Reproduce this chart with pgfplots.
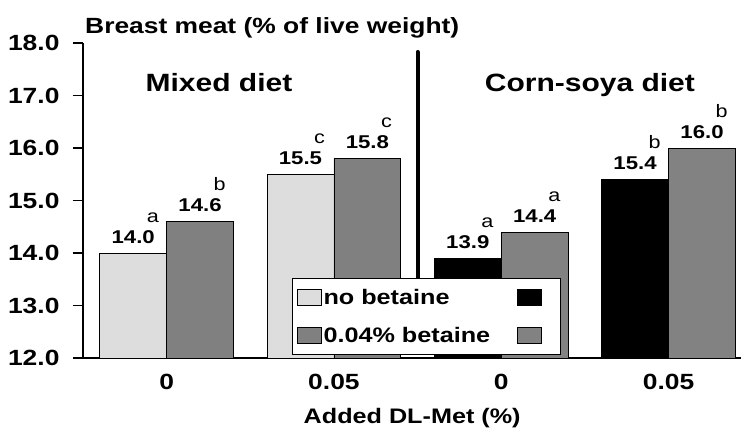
\documentclass[border=0pt]{standalone}
\usepackage{pgfplots}
\pgfplotsset{compat=1.18}
\usepackage{pgfplotstable}
\usepackage{fontspec}
\setmainfont{Liberation Sans}[FakeStretch=1.2]
\setsansfont{Liberation Sans}[FakeStretch=1.2]
\definecolor{lightbar}{HTML}{DDDDDD}
\definecolor{darkbar}{HTML}{808080}
\definecolor{greybar}{HTML}{828282}

\pgfplotstableread{
x y let
0 14.0 a
1 15.5 c
}\mixno
\pgfplotstableread{
x y let
0 14.6 b
1 15.8 c
}\mixbet
\pgfplotstableread{
x y let
2 13.9 a
3 15.4 b
}\cornno
\pgfplotstableread{
x y let
2 14.4 a
3 16.0 b
}\cornbet

\begin{document}
\begin{tikzpicture}
\begin{axis}[
  x=167.3pt, y=52.5pt,
  xmin=-0.5, xmax=3.435,
  ymin=12, ymax=18,
  clip=false,
  axis lines*=left,
  axis line style={line width=1.2pt},
  ybar, bar width=0.4,
  xtick={0,1,2,3},
  xticklabels={0,0.05,0,0.05},
  xtick style={draw=none},
  ytick={12,13,14,15,16,17,18},
  ytick style={line width=1.2pt, black},
  tick align=outside,
  major tick length=10pt,
  /pgf/number format/assume math mode=true,
  yticklabel={\pgfmathprintnumber[fixed,fixed zerofill,precision=1]{\tick}},
  tick label style={font=\bfseries\fontsize{22}{26}\selectfont},
  yticklabel style={xshift=-10pt},
  xticklabel style={yshift=-3pt},
  xlabel={Added DL-Met (\%)},
  xlabel style={font=\bfseries\fontsize{21}{25}\selectfont, yshift=-11pt},
  legpatch/.style={legend image code/.code={\draw[##1, line width=0.8pt] (0pt,-8pt) rectangle (24pt,8pt);}},
  legend columns=2,
  legend style={at={(axis description cs:0.318,0.254)}, anchor=north west,
    draw=black, line width=0.8pt,
    font=\bfseries\fontsize{21}{25}\selectfont,
    inner xsep=4pt, inner ysep=9pt, row sep=17pt},
  point meta=explicit symbolic,
  nodes near coords={\pgfmathprintnumber[fixed,fixed zerofill,precision=1]{\pgfkeysvalueof{/data point/y}}\rlap{\kern-8pt\raisebox{21pt}{\mdseries\fontsize{18}{20}\selectfont\pgfplotspointmeta}}},
  every node near coord/.append style={font=\bfseries\fontsize{18.5}{22}\selectfont, anchor=base, yshift=10pt, inner sep=0pt},
]
\addplot[ybar, bar shift=-0.2, fill=lightbar, draw=black, line width=0.8pt, legpatch] table[x=x,y=y,meta=let] {\mixno};
\addlegendentry{\makebox[191pt][l]{no betaine}}
\addplot[ybar, bar shift=-0.2, fill=black, draw=black, line width=0.8pt, legpatch] table[x=x,y=y,meta=let] {\cornno};
\addlegendentry{\makebox[11pt]{}}
\addplot[ybar, bar shift=0.2, fill=darkbar, draw=black, line width=0.8pt, legpatch] table[x=x,y=y,meta=let] {\mixbet};
\addlegendentry{\makebox[191pt][l]{0.04\% betaine}}
\addplot[ybar, bar shift=0.2, fill=greybar, draw=black, line width=0.8pt, legpatch] table[x=x,y=y,meta=let] {\cornbet};
\addlegendentry{\makebox[11pt]{}}
\draw[line width=4pt, line cap=round] (axis cs:1.5,17.83) -- (axis cs:1.5,13.0);
\node[anchor=base west, inner sep=0pt, font=\bfseries\fontsize{22}{26}\selectfont] at (axis cs:-0.488,18.19) {Breast meat (\% of live weight)};
\node[anchor=base, inner sep=0pt, font=\bfseries\fontsize{25}{30}\selectfont] at (axis cs:0.313,17.086) {Mixed diet};
\node[anchor=base, inner sep=0pt, font=\bfseries\fontsize{25}{30}\selectfont] at (axis cs:2.53,17.086) {Corn-soya diet};
\path (axis cs:-0.996,10.495) rectangle (axis cs:3.445,18.82);
\end{axis}
\end{tikzpicture}
\end{document}
